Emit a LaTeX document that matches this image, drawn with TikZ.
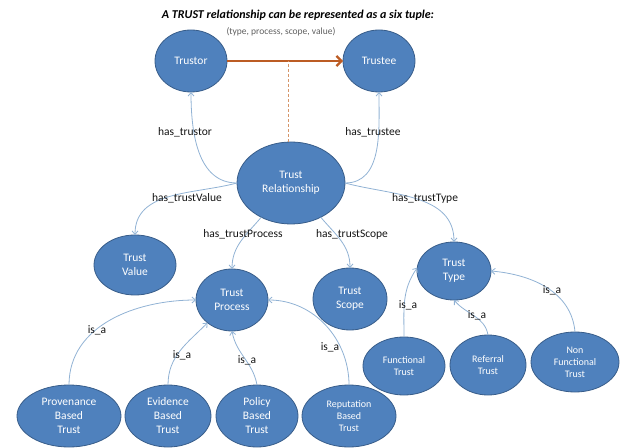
\documentclass[tikz,border=0pt]{standalone}
\usepackage{fontspec}
\setmainfont{Carlito}
\usetikzlibrary{shapes.geometric,arrows.meta}

\definecolor{nodeblue}{RGB}{79,129,189}
\definecolor{nodeedge}{RGB}{56,93,138}
\definecolor{linkblue}{RGB}{145,178,212}
\definecolor{rustline}{RGB}{188,92,36}
\definecolor{dashorange}{RGB}{214,150,105}
\definecolor{labelgrey}{RGB}{20,20,20}
\definecolor{subgrey}{RGB}{95,95,95}

\tikzset{
  concept/.style={ellipse, fill=nodeblue, draw=nodeedge, line width=0.8pt,
    text=white, align=center, inner sep=0pt, outer sep=0pt,
    font=\fontsize{11.5}{14}\selectfont},
  minor/.style={concept, font=\fontsize{10}{12}\selectfont},
  link/.style={draw=linkblue, line width=0.8pt,
    -{Straight Barb[length=3.5pt,width=6pt]}},
  rel/.style={font=\fontsize{11.5}{14}\selectfont, text=labelgrey, inner sep=1pt},
}

\begin{document}
\begin{tikzpicture}[x=1pt,y=1pt]
\useasboundingbox (0,0) rectangle (620,447);

% heading
\node[font=\fontsize{12}{14}\bfseries\itshape\selectfont] (title) at (298,432)
  {A TRUST relationship can be represented as a six tuple:};
\node[font=\fontsize{9.5}{11}\selectfont, text=subgrey] (tuple) at (281,415)
  {(type, process, scope, value)};

% concepts
\node[concept, minimum width=72pt, minimum height=62pt] (trustor) at (191,386) {Trustor};
\node[concept, minimum width=72pt, minimum height=62pt] (trustee) at (379,386) {Trustee};
\node[concept, minimum width=108pt, minimum height=82pt] (rel) at (291,264) {Trust\\Relationship};
\node[concept, minimum width=82pt, minimum height=60pt] (value) at (135,182) {Trust\\Value};
\node[concept, minimum width=72pt, minimum height=62pt] (process) at (232,147) {Trust\\Process};
\node[concept, minimum width=74pt, minimum height=62pt] (scope) at (350,148) {Trust\\Scope};
\node[concept, minimum width=74pt, minimum height=58pt] (type) at (454,176) {Trust\\Type};

\node[concept, minimum width=104pt, minimum height=62pt] (prov) at (69,31) {Provenance\\Based\\Trust};
\node[concept, minimum width=86pt, minimum height=62pt] (evid) at (168,31) {Evidence\\Based\\Trust};
\node[concept, minimum width=82pt, minimum height=62pt] (policy) at (257,31) {Policy\\Based\\Trust};
\node[minor, minimum width=94pt, minimum height=62pt] (reput) at (349,31) {Reputation\\Based\\Trust};

\node[minor, minimum width=82pt, minimum height=58pt] (func) at (404,81) {Functional\\Trust};
\node[minor, minimum width=76pt, minimum height=60pt] (referral) at (488,82) {Referral\\Trust};
\node[minor, minimum width=88pt, minimum height=60pt] (nonfunc) at (575,85) {Non\\Functional\\Trust};

% trustor -> trustee, with the dashed tie down to the relationship
\draw[rustline, line width=2.2pt, -{Straight Barb[length=5pt,width=10pt]}] (trustor) -- (trustee);
\coordinate (tie) at ([xshift=-3pt]rel.north);
\draw[dashorange, line width=0.9pt, dash pattern=on 3pt off 2pt] (tie) -- (tie |- trustor.east);

% relationship properties
\draw[link] (rel.west) to[out=180,in=-90] (trustor.south);
\draw[link] (rel.east) to[out=0,in=-90] (trustee.south);
\draw[link] (rel.west) to[out=195,in=90] (value.north);
\draw[link] (rel.east) to[out=-15,in=90] (type.north);
\draw[link] (rel.229) to[out=230,in=90] (process.north);
\draw[link] (rel.311) to[out=-50,in=90] (scope.north);

% subclasses
\draw[link] (prov.north) to[out=90,in=180] (process.west);
\draw[link] (evid.north) to[out=90,in=225] (process.223);
\draw[link] (policy.north) to[out=100,in=-80] (process.south);
\draw[link] (reput.north) to[out=90,in=0] (process.east);
\draw[link] (func.north) to[out=90,in=235] (type.175);
\draw[link] (referral.north) to[out=100,in=-50] (type.south);
\draw[link] (nonfunc.north) to[out=95,in=-5] (type.east);

% property labels
\node[rel] (l-trustor) at (185,315) {has\_trustor};
\node[rel] (l-trustee) at (373,315) {has\_trustee};
\node[rel] (l-value) at (187,249) {has\_trustValue};
\node[rel] (l-type) at (425,249) {has\_trustType};
\node[rel] (l-process) at (243,213) {has\_trustProcess};
\node[rel] (l-scope) at (352,213) {has\_trustScope};

\node[rel] (l-prov) at (97,117) {is\_a};
\node[rel] (l-evid) at (182,92) {is\_a};
\node[rel] (l-policy) at (247,87) {is\_a};
\node[rel] (l-reput) at (330,100) {is\_a};
\node[rel] (l-func) at (408,142) {is\_a};
\node[rel] (l-referral) at (477,132) {is\_a};
\node[rel] (l-nonfunc) at (552,157) {is\_a};
\end{tikzpicture}
\end{document}
